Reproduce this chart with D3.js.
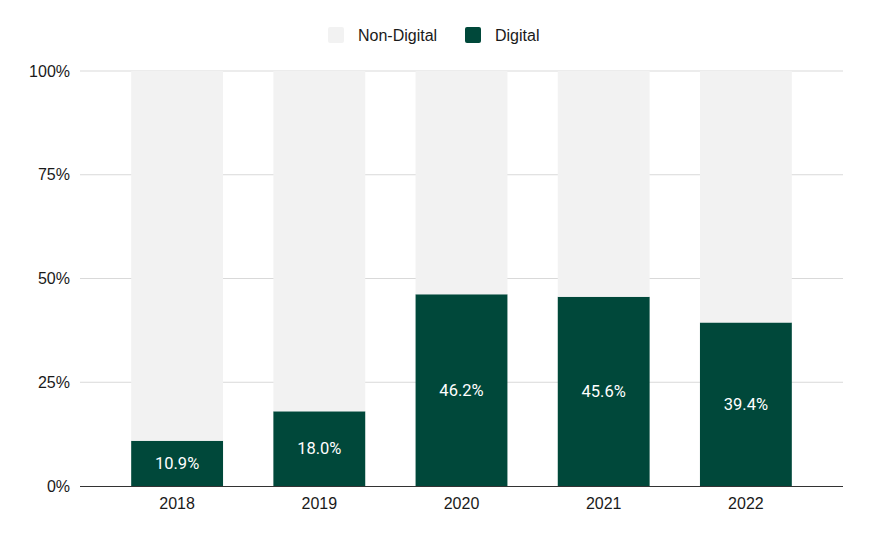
<!DOCTYPE html>
<html>
<head>
<meta charset="utf-8">
<script src="https://cdn.jsdelivr.net/npm/d3@7"></script>
<style>
  body { margin: 0; background: #fff; font-family: "Liberation Sans", Arial, sans-serif; }
  .tick text { fill: #1a1a1a; }
</style>
</head>
<body>
<div id="chart"></div>
<script>
// values (percent share)
const years = ["2018", "2019", "2020", "2021", "2022"]
const digital = [10.9, 18.0, 46.2, 45.6, 39.4]
const nonDigital = [89.1, 82.0, 53.8, 54.4, 60.6]
const yTicks = [0, 25, 50, 75, 100]
const seriesNames = ["Non-Digital", "Digital"]
const seriesColors = ["#f2f2f2", "#00483a"]

const width = 870
const height = 540
const margin = {top: 71, right: 27, bottom: 54, left: 80}
const innerW = width - margin.left - margin.right
const innerH = height - margin.top - margin.bottom
const axisFont = "'Liberation Sans', Arial, sans-serif"

const rows = years.map((y, i) => ({year: y, Digital: digital[i], "Non-Digital": nonDigital[i]}))

const $svg = d3.select("#chart").append("svg")
    .attr("width", width)
    .attr("height", height)

const $g = $svg.append("g")
    .attr("transform", `translate(${margin.left},${margin.top})`)

const xScale = d3.scaleBand()
    .domain(years)
    .range([0, innerW])
    .paddingInner(0.354)
    .paddingOuter(0.36)

const yScale = d3.scaleLinear()
    .domain([0, 100])
    .range([innerH, 0])

//gridlines behind the bars
$g.append("g")
    .selectAll("line")
    .data(yTicks.filter(d => d > 0))
    .enter().append("line")
    .attr("x1", 0)
    .attr("x2", innerW)
    .attr("y1", d => yScale(d))
    .attr("y2", d => yScale(d))
    .attr("stroke", "#d9d9d9")
    .attr("stroke-width", 1)

// y axis labels
const yAxis = g => g.call(d3.axisLeft(yScale).tickValues(yTicks).tickFormat(d => `${d}%`).tickSize(0).tickPadding(10))
    .call(g => g.select(".domain").remove())
    .call(g => g.selectAll("text").attr("font-size", 16).attr("font-family", axisFont))

$g.append("g").call(yAxis)

// stacked bars: digital at the bottom
const stack = d3.stack().keys(["Digital", "Non-Digital"])(rows)
const colorOf = d3.scaleOrdinal().domain(seriesNames).range(seriesColors)

$g.selectAll(".layer")
    .data(stack)
    .enter().append("g")
    .attr("class", "layer")
    .attr("fill", d => colorOf(d.key))
    .selectAll("rect")
    .data(d => d)
    .enter().append("rect")
    .attr("x", d => xScale(d.data.year))
    .attr("width", xScale.bandwidth())
    .attr("y", d => yScale(d[1]))
    .attr("height", d => yScale(d[0]) - yScale(d[1]))

// value labels inside digital bars
$g.selectAll("text.val")
    .data(rows)
    .enter().append("text")
    .attr("class", "val")
    .attr("x", d => xScale(d.year) + xScale.bandwidth() / 2)
    .attr("y", d => yScale(d.Digital / 2))
    .attr("dy", "0.35em")
    .attr("text-anchor", "middle")
    .attr("fill", "#fff")
    .attr("font-family", "Roboto, sans-serif")
    .attr("font-size", 16.5)
    .text(d => `${d.Digital.toFixed(1)}%`)

// x axis
const xAxis = g => g.attr("transform", `translate(0, ${innerH})`)
    .call(d3.axisBottom(xScale).tickSize(0).tickPadding(12))
    .call(g => g.select(".domain").attr("stroke", "#333").attr("d", `M0,0.5H${innerW}`))
    .call(g => g.selectAll("text").attr("font-size", 16).attr("font-family", axisFont))

$g.append("g").call(xAxis)

// legend
const legendX = [328, 465]
const $legend = $svg.append("g")
    .selectAll("g")
    .data(seriesNames)
    .enter().append("g")
    .attr("transform", (d, i) => `translate(${legendX[i]}, 27)`)

$legend.append("rect")
    .attr("width", 16)
    .attr("height", 16)
    .attr("rx", 2)
    .attr("fill", d => colorOf(d))

$legend.append("text")
    .attr("x", 30)
    .attr("y", 8)
    .attr("dy", "0.35em")
    .attr("font-size", 16)
    .attr("font-family", axisFont)
    .attr("fill", "#1a1a1a")
    .text(d => d)
</script>
</body>
</html>
